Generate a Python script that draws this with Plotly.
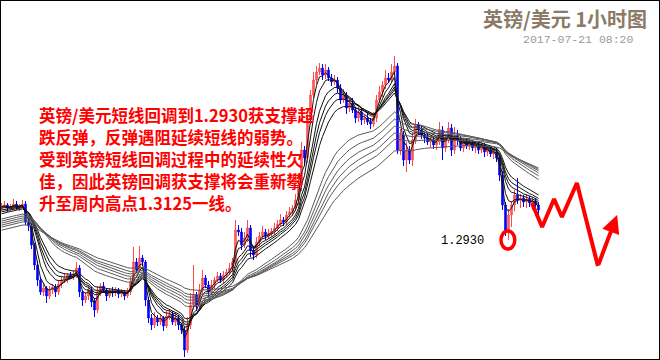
import plotly.graph_objects as go

# ---------------- data ----------------
first_open = 1.2958
closes = [
    1.2960, 1.2961, 1.2958, 1.2959, 1.2962, 1.2959, 1.2960, 1.2962, 1.2944, 1.2940,
    1.2921, 1.2901, 1.2886, 1.2874, 1.2878, 1.2870, 1.2876, 1.2879, 1.2874, 1.2882,
    1.2886, 1.2888, 1.2891, 1.2889, 1.2892, 1.2898, 1.2874, 1.2866, 1.2870, 1.2876,
    1.2864, 1.2856, 1.2874, 1.2880, 1.2876, 1.2870, 1.2875, 1.2873, 1.2876, 1.2872,
    1.2874, 1.2870, 1.2874, 1.2884, 1.2904, 1.2896, 1.2908, 1.2904, 1.2866, 1.2848,
    1.2841, 1.2848, 1.2844, 1.2848, 1.2840, 1.2850, 1.2852, 1.2844, 1.2848, 1.2841,
    1.2836, 1.2816, 1.2841, 1.2861, 1.2871, 1.2861, 1.2876, 1.2888, 1.2881, 1.2874,
    1.2881, 1.2886, 1.2890, 1.2886, 1.2891, 1.2894, 1.2898, 1.2904, 1.2936, 1.2934,
    1.2921, 1.2928, 1.2938, 1.2916, 1.2911, 1.2924, 1.2930, 1.2934, 1.2930, 1.2933,
    1.2935, 1.2938, 1.2942, 1.2946, 1.2944, 1.2951, 1.2954, 1.2958, 1.2966, 1.2981,
    1.3016, 1.3008, 1.3046, 1.3071, 1.3086, 1.3094, 1.3098, 1.3091, 1.3096, 1.3088,
    1.3084, 1.3086, 1.3078, 1.3066, 1.3071, 1.3058, 1.3063, 1.3056, 1.3048, 1.3054,
    1.3046, 1.3048, 1.3044, 1.3042, 1.3048, 1.3066, 1.3074, 1.3081, 1.3088, 1.3086,
    1.3094, 1.3100, 1.3016, 1.3031, 1.3006, 1.3016, 1.3006, 1.3026, 1.3041, 1.3036,
    1.3031, 1.3028, 1.3024, 1.3026, 1.3021, 1.3024, 1.3036, 1.3018, 1.3026, 1.3038,
    1.3016, 1.3031, 1.3026, 1.3018, 1.3024, 1.3020, 1.3023, 1.3018, 1.3021, 1.3016,
    1.3020, 1.3014, 1.3016, 1.3012, 1.3014, 1.3008, 1.2991, 1.2961, 1.2936, 1.2951,
    1.2961, 1.2971, 1.2966, 1.2968, 1.2964, 1.2967, 1.2963, 1.2965, 1.2961, 1.2956,
]
upper_wick_pips = [
    3, 4, 2, 3, 5, 3, 2, 4, 3, 4,
    3, 2, 4, 3, 5, 2, 4, 3, 3, 4,
    3, 5, 2, 3, 4, 6, 3, 2, 4, 5,
    3, 4, 6, 3, 4, 2, 3, 4, 3, 2,
    3, 2, 4, 5, 15, 4, 12, 3, 2, 3,
    4, 6, 3, 4, 2, 5, 4, 3, 5, 3,
    2, 3, 8, 12, 30, 3, 6, 8, 3, 4,
    5, 3, 4, 3, 4, 3, 5, 4, 10, 5,
    4, 6, 8, 3, 4, 5, 4, 6, 3, 4,
    3, 5, 4, 6, 3, 4, 5, 3, 6, 5,
    8, 4, 6, 5, 8, 6, 5, 4, 6, 3,
    4, 5, 3, 4, 6, 3, 4, 5, 3, 6,
    4, 3, 5, 4, 6, 5, 6, 4, 8, 5,
    8, 10, 3, 6, 4, 8, 4, 8, 6, 3,
    4, 3, 5, 4, 3, 6, 8, 4, 6, 6,
    4, 8, 5, 4, 3, 4, 5, 3, 4, 3,
    4, 3, 4, 3, 3, 4, 3, 4, 3, 6,
    4, 5, 17, 4, 3, 5, 3, 4, 3, 3,
]
lower_wick_pips = [
    3, 2, 4, 3, 2, 3, 4, 2, 3, 5,
    4, 5, 6, 3, 4, 7, 3, 4, 5, 3,
    4, 3, 5, 2, 3, 4, 5, 6, 3, 4,
    5, 7, 3, 4, 3, 5, 2, 4, 3, 4,
    3, 4, 2, 3, 4, 3, 2, 4, 6, 5,
    5, 3, 4, 3, 5, 2, 4, 3, 4, 5,
    4, 7, 3, 4, 5, 6, 3, 4, 3, 5,
    3, 4, 2, 3, 4, 3, 2, 4, 3, 4,
    5, 3, 4, 7, 5, 3, 4, 3, 4, 3,
    3, 4, 3, 2, 4, 3, 2, 4, 3, 5,
    6, 8, 5, 4, 3, 4, 3, 5, 4, 3,
    4, 3, 5, 4, 3, 6, 4, 3, 5, 4,
    5, 4, 3, 5, 3, 4, 3, 5, 4, 3,
    3, 4, 4, 5, 6, 12, 4, 6, 4, 5,
    4, 5, 3, 6, 4, 5, 3, 12, 4, 3,
    6, 4, 5, 3, 4, 3, 4, 3, 5, 4,
    3, 5, 4, 3, 5, 4, 6, 5, 6, 10,
    12, 6, 4, 8, 5, 6, 4, 7, 5, 6,
]
ema_periods = [3, 5, 8, 10, 12, 15, 30, 35, 40, 45, 50, 60]
ema_seeds = [1.2959, 1.2958, 1.2957, 1.2955, 1.2953, 1.2951,
             1.2946, 1.2944, 1.2942, 1.2940, 1.2938, 1.2935]

forecast_x = [176.8, 180.2, 184.2, 186.8, 191.8, 198.8]
forecast_y = [1.2963, 1.2939, 1.2967, 1.2949, 1.2983, 1.2900]
arrow_tip = (205.2, 1.2951)
low_level = 1.2930
low_x = 168.8

title_text = "英镑/美元 1小时图"
date_text = "2017-07-21 08:20"
comment_lines = [
    "英镑/美元短线回调到1.2930获支撑超",
    "跌反弹，反弹遇阻延续短线的弱势。",
    "受到英镑短线回调过程中的延续性欠",
    "佳，因此英镑回调获支撑将会重新攀",
    "升至周内高点1.3125一线。",
]

# ---------------- derived ----------------
n = len(closes)
idx = list(range(n))
opens = [first_open] + closes[:-1]
highs = [max(o, c) + u / 10000 for o, c, u in zip(opens, closes, upper_wick_pips)]
lows = [min(o, c) - d / 10000 for o, c, d in zip(opens, closes, lower_wick_pips)]

fig = go.Figure()
fig.add_trace(go.Candlestick(
    x=idx, open=opens, high=highs, low=lows, close=closes,
    increasing=dict(line=dict(color="#FF4A4A", width=1), fillcolor="#FF6A6A"),
    decreasing=dict(line=dict(color="#0000FF", width=1), fillcolor="#0000FF"),
    whiskerwidth=0, hoverinfo="skip", showlegend=False,
))

for p, s in zip(ema_periods, ema_seeds):
    a = 2.0 / (p + 1)
    e = s
    vals = []
    for c in closes:
        e = a * c + (1 - a) * e
        vals.append(e)
    fig.add_trace(go.Scatter(
        x=idx, y=vals, mode="lines",
        line=dict(color="#111111" if p <= 15 else "#5A5A5A", width=1),
        hoverinfo="skip", showlegend=False,
    ))

fig.add_trace(go.Scatter(
    x=forecast_x, y=forecast_y, mode="lines",
    line=dict(color="#FF0000", width=4), hoverinfo="skip", showlegend=False,
))

annotations = [
    dict(x=arrow_tip[0], y=arrow_tip[1], ax=forecast_x[-1], ay=forecast_y[-1],
         xref="x", yref="y", axref="x", ayref="y", text="", showarrow=True,
         arrowhead=2, arrowsize=0.9, arrowwidth=4, arrowcolor="#FF0000", standoff=0),
    dict(x=low_x - 15.3, y=low_level - 0.0005, xref="x", yref="y", text="1.2930",
         showarrow=False, font=dict(family="Liberation Mono", size=12, color="#000000")),
    dict(x=649, y=18, xref="paper", yref="paper", text="<b>" + title_text + "</b>",
         showarrow=False, xanchor="right", yanchor="middle",
         font=dict(family="Noto Sans CJK SC", size=20, color="#8C7A68")),
    dict(x=636, y=39, xref="paper", yref="paper", text=date_text,
         showarrow=False, xanchor="right", yanchor="middle",
         font=dict(family="Liberation Mono", size=11.5, color="#9A9A9A")),
]
line_y = [115, 137, 159, 181, 203]
for t, yy in zip(comment_lines, line_y):
    annotations.append(dict(
        x=37, y=yy, xref="paper", yref="paper", text="<b>" + t + "</b>",
        showarrow=False, xanchor="left", yanchor="middle",
        font=dict(family="Noto Sans CJK SC", size=16.5, color="#FF0000"),
    ))

# convert pixel-placed paper annotations to paper fractions
for an in annotations:
    if an.get("xref") == "paper":
        an["x"] = an["x"] / 660
        an["y"] = 1 - an["y"] / 360

fig.update_layout(
    width=660, height=360, margin=dict(l=0, r=0, t=0, b=0),
    paper_bgcolor="white", plot_bgcolor="white",
    xaxis=dict(range=[-0.5, 219.5], visible=False, rangeslider=dict(visible=False), fixedrange=True),
    yaxis=dict(range=[1.2806, 1.3166], visible=False, fixedrange=True),
    annotations=annotations,
    shapes=[
        dict(type="circle", xref="x", yref="y", x0=low_x - 2.3, x1=low_x + 2.3,
             y0=low_level - 0.0013, y1=low_level + 0.0005,
             line=dict(color="#FF0000", width=3.5)),
        dict(type="rect", xref="paper", yref="paper", x0=0, x1=1, y0=0, y1=1,
             line=dict(color="#000000", width=2)),
    ],
    hovermode=False, showlegend=False,
)

fig.write_html("out.html")
